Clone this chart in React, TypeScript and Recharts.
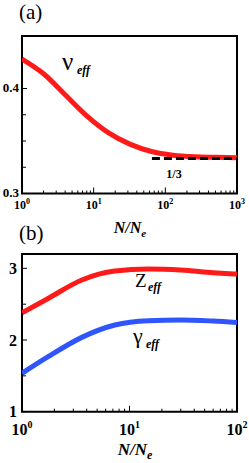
import React from 'react';
import { LineChart, Line, XAxis, YAxis, ReferenceArea } from 'recharts';

// ---- Panel (a) data ----
const nA = [1, 2, 4, 8, 16, 32, 64, 128, 256, 512, 1000];
const nuEff = [0.428, 0.414, 0.394, 0.374, 0.358, 0.347, 0.340, 0.3365, 0.335, 0.3345, 0.334];
const limitN = [65, 1000];
const limitV = [1 / 3, 1 / 3];
const xMajorA = [1, 10, 100, 1000];
const xMinorA = [2, 3, 4, 5, 6, 7, 8, 9, 20, 30, 40, 50, 60, 70, 80, 90, 200, 300, 400, 500, 600, 700, 800, 900];
const yMajorA = [0.3, 0.4];
const yMinorA = [0.325, 0.35, 0.375];
const yLabelsA = ['0.3', '0.4'];

// ---- Panel (b) data ----
const nB = [1, 1.75, 3.6, 7.3, 15, 30, 60, 100];
const zEff = [2.38, 2.58, 2.837, 2.962, 2.99, 2.976, 2.94, 2.92];
const gammaEff = [1.535, 1.767, 2.037, 2.209, 2.27, 2.28, 2.265, 2.246];
const xMajorB = [1, 10, 100];
const xMinorB = [2, 3, 4, 5, 6, 7, 8, 9, 20, 30, 40, 50, 60, 70, 80, 90];
const yMajorB = [1, 2, 3];
const yMinorB = [1.5, 2.5];
const yLabelsB = ['1', '2', '3'];

const dataA = nA.map((n, i) => ({ n, nu: nuEff[i] }));
const dataLimit = limitN.map((n, i) => ({ n, v: limitV[i] }));
const dataB = nB.map((n, i) => ({ n, z: zEff[i], g: gammaEff[i] }));

const SERIF = 'Liberation Serif, DejaVu Serif, serif';
const RED = '#ff1a1a';
const BLUE = '#2f55ff';
const T: React.CSSProperties = { fontFamily: SERIF };

const isIn = (arr: number[], v: number) => arr.some((a) => Math.abs(a - v) < 1e-9);

const makeXTick = (majors: number[], fs: number, dy: number, supFs: number, supDy: number) => (props: any) => {
  const { x, y, payload } = props;
  const v = payload.value;
  const major = isIn(majors, v);
  const exp = Math.round(Math.log10(v));
  return (
    <g>
      <line x1={x} x2={x} y1={y} y2={y - (major ? 6 : 3)} stroke="#000" strokeWidth={1} />
      {major && (
        <text x={x} y={y + dy} textAnchor="middle" fontFamily={SERIF} style={T} fontWeight="bold" fontSize={fs} fill="#000">
          10<tspan dy={supDy} fontSize={supFs}>{exp}</tspan>
        </text>
      )}
    </g>
  );
};

const makeYTick = (majors: number[], labels: string[], fs: number, dx: number, dy: number) => (props: any) => {
  const { x, y, payload } = props;
  const v = payload.value;
  const idx = majors.findIndex((m) => Math.abs(m - v) < 1e-9);
  const major = idx >= 0;
  return (
    <g>
      <line x1={x} x2={x + (major ? 5 : 4)} y1={y} y2={y} stroke="#000" strokeWidth={1} />
      {major && (
        <text x={x - dx} y={y + dy} textAnchor="end" fontFamily={SERIF} style={T} fontWeight="bold" fontSize={fs} fill="#000">
          {labels[idx]}
        </text>
      )}
    </g>
  );
};

export default function App() {
  return (
    <div style={{ position: 'absolute', left: 0, top: 0, width: 249, height: 463, background: '#fff', fontFamily: SERIF }}>
      <div style={{ position: 'absolute', left: 0, top: 0 }}>
        <LineChart width={249} height={245} data={dataA} margin={{ top: 36, right: 12, bottom: 50.5, left: 21 }}>
          <XAxis
            dataKey="n"
            type="number"
            scale="log"
            domain={[1, 1000]}
            ticks={[...xMajorA, ...xMinorA]}
            interval={0}
            height={1}
            tickSize={0}
            tickMargin={0}
            axisLine={false}
            tickLine={false}
            tick={makeXTick(xMajorA, 12, 15, 8, -5)}
            allowDataOverflow
          />
          <YAxis
            type="number"
            domain={[0.3, 0.45]}
            ticks={[...yMajorA, ...yMinorA]}
            interval={0}
            width={1}
            tickSize={0}
            tickMargin={0}
            axisLine={false}
            tickLine={false}
            tick={makeYTick(yMajorA, yLabelsA, 13, 3, 3.5)}
            allowDataOverflow
          />
          <Line data={dataA} dataKey="nu" type="monotone" stroke={RED} strokeWidth={5} dot={false} isAnimationActive={false} />
          <Line data={dataLimit} dataKey="v" type="linear" stroke="#000" strokeWidth={3} strokeDasharray="8 4" dot={false} isAnimationActive={false} />
          <ReferenceArea x1={1} x2={1000} y1={0.3} y2={0.45} fill="none" stroke="#000" strokeWidth={2} />
          <text x={19} y={19} fontFamily={SERIF} style={T} fontSize={21} fill="#000">(a)</text>
          <text x={62} y={70} fontFamily={SERIF} style={T} fontSize={25} fill="#000">ν</text>
          <text x={77} y={74} fontFamily={SERIF} style={T} fontSize={12} fontStyle="italic" fontWeight="bold" fill="#000">eff</text>
          <text x={174} y={178} textAnchor="middle" fontFamily={SERIF} style={T} fontSize={12} fontWeight="bold" fill="#000">1/3</text>
          <text x={130} y={233} textAnchor="middle" fontFamily={SERIF} style={T} fontSize={16} fontStyle="italic" fontWeight="bold" fill="#000">
            N/N<tspan dy={4} fontSize={11}>e</tspan>
          </text>
        </LineChart>
      </div>
      <div style={{ position: 'absolute', left: 0, top: 215 }}>
        <LineChart width={249} height={248} data={dataB} margin={{ top: 39, right: 12, bottom: 50.3, left: 21 }}>
          <XAxis
            dataKey="n"
            type="number"
            scale="log"
            domain={[1, 100]}
            ticks={[...xMajorB, ...xMinorB]}
            interval={0}
            height={1}
            tickSize={0}
            tickMargin={0}
            axisLine={false}
            tickLine={false}
            tick={makeXTick(xMajorB, 16, 23, 10, -7)}
            allowDataOverflow
          />
          <YAxis
            type="number"
            domain={[1, 3.2]}
            ticks={[...yMajorB, ...yMinorB]}
            interval={0}
            width={1}
            tickSize={0}
            tickMargin={0}
            axisLine={false}
            tickLine={false}
            tick={makeYTick(yMajorB, yLabelsB, 16, 5, 5.5)}
            allowDataOverflow
          />
          <Line dataKey="z" type="monotone" stroke={RED} strokeWidth={5} dot={false} isAnimationActive={false} />
          <Line dataKey="g" type="monotone" stroke={BLUE} strokeWidth={5} dot={false} isAnimationActive={false} />
          <ReferenceArea x1={1} x2={100} y1={1} y2={3.2} fill="none" stroke="#000" strokeWidth={2} />
          <text x={19} y={25} fontFamily={SERIF} style={T} fontSize={21} fill="#000">(b)</text>
          <text x={135} y={72} fontFamily={SERIF} style={T} fontSize={19} fill="#000">Z</text>
          <text x={148} y={76} fontFamily={SERIF} style={T} fontSize={12} fontStyle="italic" fontWeight="bold" fill="#000">eff</text>
          <text x={133} y={128} fontFamily={SERIF} style={T} fontSize={22} fill="#000">γ</text>
          <text x={146} y={133} fontFamily={SERIF} style={T} fontSize={12} fontStyle="italic" fontWeight="bold" fill="#000">eff</text>
          <text x={135} y={240} textAnchor="middle" fontFamily={SERIF} style={T} fontSize={17} fontStyle="italic" fontWeight="bold" fill="#000">
            N/N<tspan dy={4} fontSize={12}>e</tspan>
          </text>
        </LineChart>
      </div>
    </div>
  );
}
